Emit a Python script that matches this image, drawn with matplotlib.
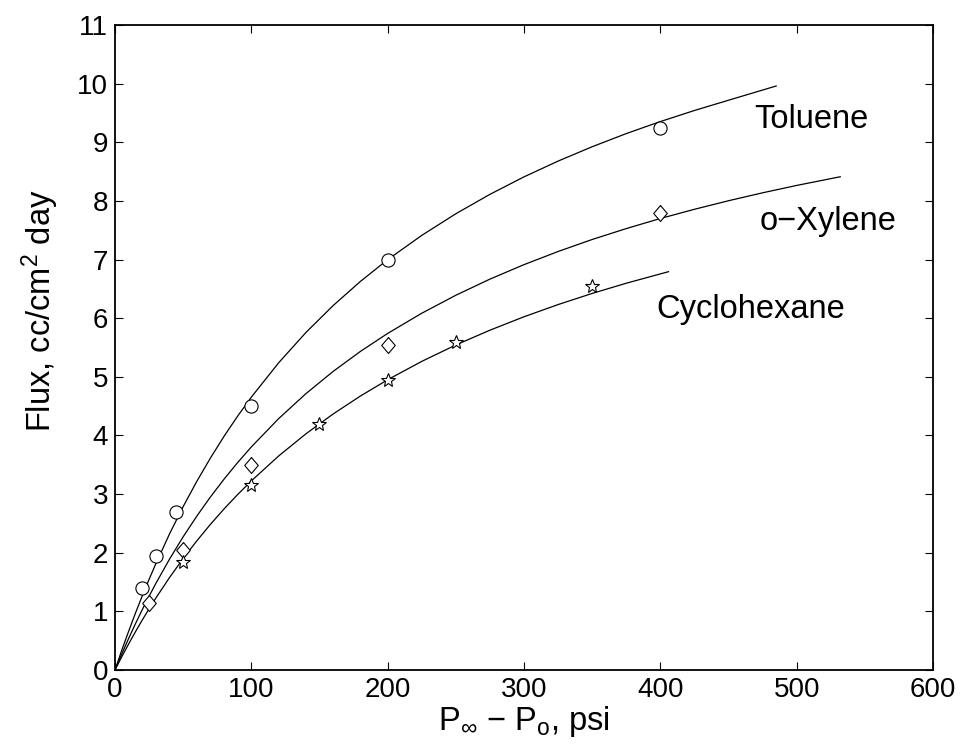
import numpy as np
import matplotlib
matplotlib.use("Agg")
import matplotlib.pyplot as plt

plt.rcParams["font.family"] = ["Liberation Sans", "DejaVu Sans"]
plt.rcParams["mathtext.fontset"] = "custom"
plt.rcParams["mathtext.rm"] = "Liberation Sans"
plt.rcParams["mathtext.it"] = "Liberation Sans:italic"

# measured points
tol_x = [20, 30, 45, 100, 200, 400]
tol_y = [1.4, 1.95, 2.7, 4.5, 7.0, 9.25]
xyl_x = [25, 50, 100, 200, 400]
xyl_y = [1.15, 2.05, 3.5, 5.55, 7.8]
cyc_x = [50, 100, 150, 200, 250, 350]
cyc_y = [1.85, 3.15, 4.2, 4.95, 5.6, 6.55]

# fitted curves
tol_cx = [0, 5, 10, 15, 20, 25, 30, 40, 50, 60, 70, 80, 90, 100, 120, 140, 160, 180, 200,
          225, 250, 275, 300, 325, 350, 375, 400, 425, 450, 485]
tol_cy = [0, 0.34, 0.66, 0.97, 1.265, 1.546, 1.815, 2.321, 2.787, 3.217, 3.615, 3.986, 4.331,
          4.653, 5.238, 5.755, 6.215, 6.627, 6.998, 7.412, 7.781, 8.112, 8.410, 8.679, 8.924,
          9.148, 9.353, 9.542, 9.717, 9.96]
xyl_cx = [0, 5, 10, 15, 20, 25, 30, 40, 50, 60, 70, 80, 90, 100, 120, 140, 160, 180, 200,
          225, 250, 275, 300, 325, 350, 375, 400, 425, 450, 475, 500, 532]
xyl_cy = [0, 0.275, 0.538, 0.789, 1.029, 1.258, 1.478, 1.891, 2.272, 2.624, 2.951, 3.255,
          3.539, 3.804, 4.286, 4.712, 5.092, 5.433, 5.740, 6.084, 6.391, 6.666, 6.913, 7.137,
          7.342, 7.528, 7.700, 7.857, 8.003, 8.138, 8.264, 8.412]
cyc_cx = [0, 5, 10, 15, 20, 25, 30, 40, 50, 60, 70, 80, 90, 100, 120, 140, 160, 180, 200,
          225, 250, 275, 300, 325, 350, 375, 406]
cyc_cy = [0, 0.227, 0.444, 0.652, 0.852, 1.044, 1.228, 1.577, 1.901, 2.202, 2.484, 2.747,
          2.993, 3.225, 3.649, 4.027, 4.366, 4.672, 4.950, 5.263, 5.543, 5.795, 6.024, 6.232,
          6.422, 6.596, 6.793]

fig = plt.figure(figsize=(9.64, 7.49), dpi=100)
ax = fig.add_axes([0.1193, 0.1055, 0.8485, 0.8611])

lw = 0.9
ax.plot(tol_cx, tol_cy, color="black", lw=lw)
ax.plot(xyl_cx, xyl_cy, color="black", lw=lw)
ax.plot(cyc_cx, cyc_cy, color="black", lw=lw)

diamond = [(0, 1), (0.85, 0), (0, -1), (-0.85, 0), (0, 1)]
ax.plot(tol_x, tol_y, "o", mfc="white", mec="black", mew=0.8, ms=9.5, ls="none")
ax.plot(xyl_x, xyl_y, marker=diamond, mfc="white", mec="black", mew=0.8, ms=11.5, ls="none")
ax.plot(cyc_x, cyc_y, "*", mfc="white", mec="black", mew=0.8, ms=10, ls="none")

ax.text(469, 9.39, "Toluene", fontsize=23.5, va="center", ha="left")
ax.text(473, 7.65, "o\u2212Xylene", fontsize=23.5, va="center", ha="left")
ax.text(397, 6.14, "Cyclohexane", fontsize=23.5, va="center", ha="left")

ax.set_xlim(0, 600)
ax.set_ylim(0, 11)
ax.set_xticks(range(0, 601, 100))
ax.set_yticks(range(0, 12))
ax.tick_params(direction="in", length=6, width=0.8, labelsize=20,
               top=True, right=True, pad=5)
for s in ax.spines.values():
    s.set_linewidth(1.3)

ax.set_xlabel(r"P$_{\infty}$ $-$ P$_{\mathrm{o}}$, psi", fontsize=23.5, labelpad=1)
ax.set_ylabel(r"Flux, cc/cm$^2$ day", fontsize=23.5)
ax.yaxis.set_label_coords(-0.066, 0.557)

fig.savefig("out.png", dpi=100)
